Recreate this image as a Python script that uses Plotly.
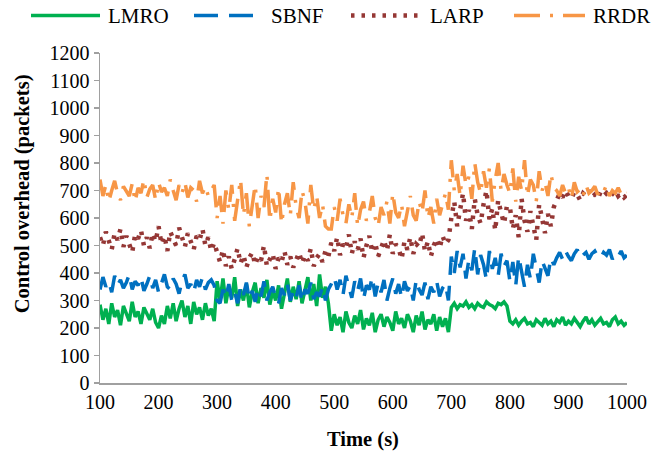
import plotly.graph_objects as go

# Time axis (s), sampled every 5 s
time_s = list(range(100, 1001, 5))

lmro = [
    285, 230, 270, 215, 290, 240, 265, 210, 280, 255, 225, 295, 240, 260, 215, 275, 250, 230, 270, 220,
    200, 245, 215, 280, 235, 290, 225, 270, 300, 240, 280, 215, 295, 250, 275, 230, 290, 245, 270, 225,
    370, 300, 380, 290, 350, 310, 385, 280, 340, 300, 360, 275, 330, 365, 290, 345, 310, 375, 285, 335,
    300, 355, 270, 320, 380, 295, 350, 305, 370, 290, 340, 385, 300, 360, 280, 395, 310, 350, 290,
    190, 250, 210, 240, 185, 260, 220, 200, 245, 215, 265, 195, 235, 210, 255, 185, 230, 250, 205, 240,
    220, 190, 260, 215, 235, 200, 250, 225, 185, 245, 210, 260, 195, 230, 215, 250, 190, 240, 205, 235, 185,
    275, 290, 270, 285, 280, 295, 275, 285, 270, 290, 280, 275, 295, 285, 280, 270, 290, 285, 295, 280,
    225, 215, 230, 210, 225, 235, 215, 220, 205, 230, 220, 210, 235, 215, 225, 205, 230, 220, 240, 210,
    225, 215, 235, 220, 205, 225, 240, 215, 230, 210, 225, 235, 215, 220, 205, 230, 240, 215, 225, 210, 220,
]

sbnf = [
    340, 385, 350, 370, 330, 390, 355, 375, 345, 365, 395, 340, 370, 355, 385, 335, 360, 390, 345, 375,
    330, 365, 395, 350, 340, 380, 360, 325, 370, 395, 345, 360, 330, 375, 350, 385, 340, 365, 375, 355,
    300, 290, 340, 310, 360, 300, 330, 290, 350, 320, 365, 305, 335, 295, 345, 315, 370, 300, 330, 350,
    310, 290, 345, 320, 360, 300, 335, 310, 355, 295, 340, 325, 365, 305, 330, 315, 350, 300, 340,
    360, 385, 340, 375, 320, 390, 350, 310, 370, 335, 380, 305, 355, 340, 385, 315, 365, 330, 375, 300,
    345, 380, 325, 360, 310, 370, 335, 355, 300, 375, 340, 320, 365, 305, 350, 330, 370, 315, 345, 360, 300,
    460, 400, 480, 420, 470, 380, 450, 410, 490, 395, 465, 430, 375, 480, 415, 455, 390, 470, 425, 445,
    370, 440, 355, 460, 400, 350, 430, 380, 470, 410, 365, 445, 420, 390, 455, 430,
    455, 475, 450, 480, 460, 445, 470, 485, 455, 465, 475, 450, 470, 480, 460, 455, 475, 465, 485, 450,
    470, 460, 480, 455, 465,
]

larp = [
    530, 500, 550, 515, 485, 545, 520, 560, 495, 535, 510, 475, 540, 525, 555, 500, 530, 490, 545, 515,
    570, 505, 535, 480, 550, 520, 500, 565, 530, 495, 545, 510, 485, 535, 520, 560, 500, 530, 480, 510,
    470, 440, 485, 425, 460, 415, 450, 490, 435, 465, 420, 455, 475, 430, 460, 445, 500, 425, 450, 470,
    415, 455, 440, 480, 430, 460, 420, 450, 475, 435, 465, 445, 490, 425, 455, 470, 440, 480, 460,
    510, 480, 530, 465, 505, 490, 540, 470, 515, 485, 525, 455, 500, 535, 475, 510, 460, 495, 520, 480,
    540, 470, 505, 490, 450, 515, 485, 530, 470, 505, 495, 545, 480, 515, 460, 500, 525, 490, 535, 505, 520,
    600, 660, 570, 640, 690, 590, 630, 560, 670, 610, 580, 650, 700, 595, 635, 555, 665, 620, 580, 645,
    640, 560, 610, 530, 670, 590, 550, 625, 580, 520, 650, 600, 545, 615, 570, 640,
    665, 690, 675, 700, 680, 670, 695, 685, 665, 690, 680, 700, 675, 685, 670, 695, 680, 690, 675, 685,
    700, 680, 690, 675, 685,
]

rrdr = [
    740, 680, 720, 660, 700, 735, 690, 665, 715, 700, 680, 725, 660, 710, 690, 740, 675, 705, 720, 665,
    730, 695, 710, 680, 740, 700, 665, 720, 690, 730, 675, 710, 700, 660, 735, 690, 715, 680, 700, 720,
    600, 680, 580, 700, 630, 720, 590, 660, 740, 610, 690, 570, 650, 720, 600, 680, 640, 760, 590, 670,
    620, 710, 580, 650, 690, 610, 730, 640, 600, 700, 660, 580, 720, 630, 680, 600, 650, 570, 560,
    560, 640, 590, 670, 610, 580, 650, 600, 690, 570, 630, 660, 590, 620, 680, 600, 570, 640, 610, 660,
    580, 690, 620, 600, 650, 570, 630, 680, 610, 590, 660, 620, 700, 600, 640, 580, 670, 610, 650, 690, 630,
    810, 700, 760, 680, 790, 720, 750, 670, 800, 730, 690, 770, 710, 780, 660, 740, 800, 700, 760, 720,
    690, 780, 660, 750, 700, 810, 680, 740, 720, 660, 770, 700, 730, 680, 760, 710,
    700, 680, 720, 690, 710, 670, 730, 695, 705, 680, 720, 690, 700, 715, 685, 705, 695, 720, 680, 700,
    690, 710, 685, 700, 695,
]

series_names = ["LMRO", "SBNF", "LARP", "RRDR"]
series_values = [lmro, sbnf, larp, rrdr]
series_colors = ["#00B050", "#0070C0", "#953735", "#F79646"]
series_dash = ["solid", "24px,11px", "3.5px,7px", "26px,10px,3px,10px"]
series_width = [3.5, 3.5, 4.5, 3.5]

x_ticks = list(range(100, 1001, 100))
y_ticks = list(range(0, 1201, 100))

FONT = "Liberation Serif, Times New Roman, serif"

fig = go.Figure()
for name, vals, col, dash, w in zip(series_names, series_values, series_colors, series_dash, series_width):
    fig.add_trace(go.Scatter(x=time_s, y=vals, mode="lines", name=name,
                             line=dict(color=col, width=w, dash=dash),
                             showlegend=False, hoverinfo="skip"))

# Plot area geometry in pixels (for the manual legend / titles)
L, R, T, B = 100, 627, 52.5, 383.0
W, H = R - L, B - T


def px(xp):
    return (xp - L) / W


def py(yp):
    return (B - yp) / H


# Manual legend (line samples + labels)
legend_items = [
    ("LMRO", 31, 100, 106),
    ("SBNF", 194, 253, 269),
    ("LARP", 351, 421, 428),
    ("RRDR", 514, 585, 591),
]
for (name, x0, x1, tx), col, dash, w in zip(legend_items, series_colors, series_dash, series_width):
    fig.add_shape(type="line", xref="paper", yref="paper",
                  x0=px(x0), x1=px(x1), y0=py(15), y1=py(15),
                  line=dict(color=col, width=w, dash=dash))
    fig.add_annotation(xref="paper", yref="paper", x=px(tx), y=py(15),
                       text=name, showarrow=False, xanchor="left", yanchor="middle",
                       font=dict(family=FONT, size=21, color="black"))

# Axis titles
fig.add_annotation(xref="paper", yref="paper", x=px(22.5), y=py(193.5),
                   text="<b>Control overhead (packets)</b>", textangle=-90,
                   showarrow=False, xanchor="center", yanchor="middle",
                   font=dict(family=FONT, size=20.5, color="black"))
fig.add_annotation(xref="paper", yref="paper", x=px(363), y=py(440),
                   text="<b>Time (s)</b>", showarrow=False,
                   xanchor="center", yanchor="middle",
                   font=dict(family=FONT, size=20.5, color="black"))

fig.update_layout(
    width=658, height=454,
    margin=dict(l=L, r=658 - R, t=T, b=454 - B, pad=0),
    paper_bgcolor="white", plot_bgcolor="white",
    hovermode=False,
    font=dict(family=FONT, size=20, color="black"),
    xaxis=dict(range=[100, 1000], tickvals=x_ticks, ticktext=[str(v) for v in x_ticks],
               showgrid=False, zeroline=False, showline=True, linecolor="#A0A0A0",
               linewidth=1.5, ticks="", tickfont=dict(family=FONT, size=20, color="black")),
    yaxis=dict(range=[0, 1200], tickvals=y_ticks, showgrid=False, zeroline=False,
               showline=True, linecolor="#A0A0A0", linewidth=1.5,
               ticks="outside", ticklen=5, tickwidth=1.5, tickcolor="#A0A0A0",
               tickfont=dict(family=FONT, size=20, color="black")),
)

fig.write_html("out.html", config={"displayModeBar": False, "staticPlot": True},
               post_script="document.body.style.margin='0px';document.body.style.overflow='hidden';")
